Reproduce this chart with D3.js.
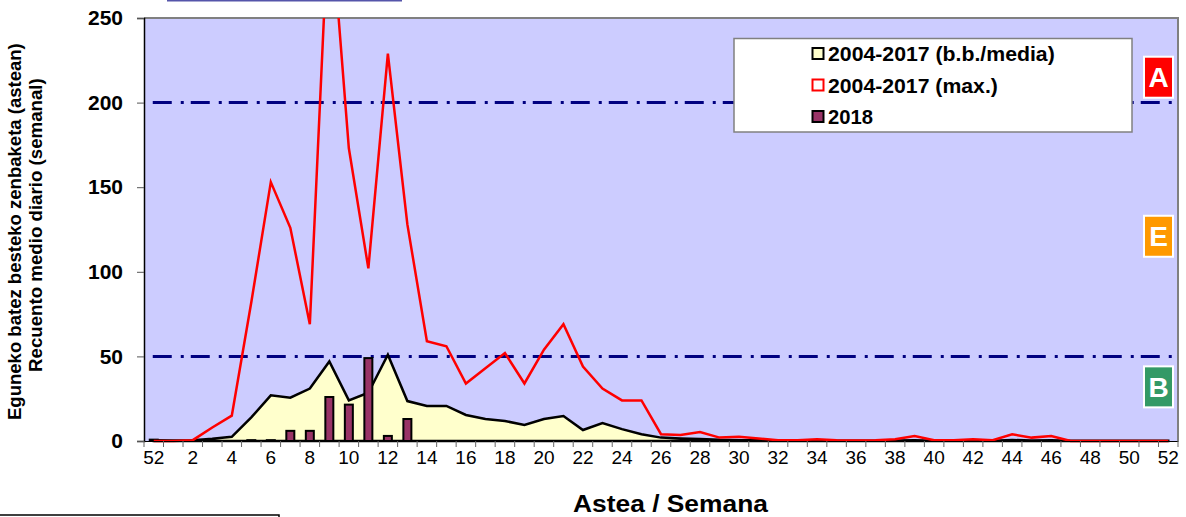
<!DOCTYPE html>
<html><head><meta charset="utf-8">
<script src="https://cdn.jsdelivr.net/npm/d3@7"></script>
<style>body{margin:0;background:#fff}svg{display:block;font-family:"Liberation Sans",Arial,sans-serif}</style>
</head><body><svg id="c" width="1186" height="517"></svg>
<script>
const weeks = ["52","1","2","3","4","5","6","7","8","9","10","11","12","13","14","15","16","17","18","19","20","21","22","23","24","25","26","27","28","29","30","31","32","33","34","35","36","37","38","39","40","41","42","43","44","45","46","47","48","49","50","51","52"];
const meanValues = [0.5,0.3,0.5,1.3,2.5,14,27,25.6,31,47,24,28.5,51,23.6,20.7,20.7,15.4,13,11.8,9.5,13,14.8,6.5,10.6,7,4,2,1.5,1.2,0.7,0.5,0.4,0.3,0.3,0.3,0.2,0.2,0.2,0.3,0.5,0.2,0.2,0.3,0.2,0.6,0.3,0.4,0.1,0.1,0.1,0.1,0.1,0.1];
const maxValues = [0,0,0.5,8,15,82,153,126,69,320,173,102,229,128,59,56,34,43,52,34,54,69,44,31,24,24,4,3.5,5.3,2,2.5,1.5,0.5,0.5,1,0.5,0.3,0.5,1,3,0.5,0.5,1,0.5,4,2,3,0,0,0,0,0,0];
const values2018 = [0.8,null,null,null,null,0.5,0.5,6,6,26,21.5,49,3,13];
const yTicks = [0,50,100,150,200,250];
const thresholds = [200,50];
const levels = [{t:"A",v:215,c:"#ff0000"},{t:"E",v:121,c:"#ff9900"},{t:"B",v:32,c:"#339966"}];
const legendItems = [{t:"2004-2017 (b.b./media)",len:227,fill:"#ffffcc",stroke:"#000"},{t:"2004-2017 (max.)",len:170,fill:"#fff",stroke:"#ff0000"},{t:"2018",len:45,fill:"#993366",stroke:"#000"}];

const svg = d3.select("#c");
const L=144,T=18,R=1178,B=441;
const x = d3.scaleBand().domain(d3.range(weeks.length)).range([L,R]).paddingInner(0).paddingOuter(0);
const y = d3.scaleLinear().domain([0,250]).range([B,T]);
const cx = i => x(i)+x.bandwidth()/2;

function fit(parent, str, x0, y0, target, size, bold, fill){
  const t = parent.append("text").attr("font-size",size).attr("font-weight",bold?"bold":null).attr("fill",fill||"#000").text(str);
  const w = t.node().getComputedTextLength();
  t.attr("transform",`translate(${x0},${y0}) scale(${target/w},1)`);
  return t;
}

svg.append("line").attr("x1",167).attr("x2",402).attr("y1",0.5).attr("y2",0.5).attr("stroke","#5555aa").attr("stroke-width",2);
svg.append("rect").attr("x",-2).attr("y",515).attr("width",281).attr("height",10).attr("fill","none").attr("stroke","#000").attr("stroke-width",1.5);

svg.append("rect").attr("x",L).attr("y",T).attr("width",R-L).attr("height",B-T).attr("fill","#ccccff");
svg.append("path").attr("d",`M${L},${T}H${R}V${B}`).attr("fill","none").attr("stroke","#808080").attr("stroke-width",2);
svg.append("clipPath").attr("id","clip").append("rect").attr("x",L).attr("y",T).attr("width",R-L).attr("height",B-T+3);

thresholds.forEach(v=>{
  svg.append("line").attr("x1",cx(0)-1).attr("x2",cx(weeks.length-1)+4).attr("y1",y(v)).attr("y2",y(v))
    .attr("stroke","#000080").attr("stroke-width",3).attr("stroke-dasharray","19,9,3,7");
});

const g = svg.append("g").attr("clip-path","url(#clip)");
g.append("path").datum(meanValues)
  .attr("d",d3.area().x((d,i)=>cx(i)).y0(y(0)).y1(d=>y(d)))
  .attr("fill","#ffffcc").attr("stroke","#000").attr("stroke-width",2.5);
const bw = 8;
g.selectAll("rect.b").data(values2018.map((v,i)=>({v,i})).filter(d=>d.v!=null)).enter().append("rect")
  .attr("x",d=>cx(d.i)-bw/2).attr("width",bw).attr("y",d=>y(d.v)).attr("height",d=>y(0)-y(d.v))
  .attr("fill","#993366").attr("stroke","#000").attr("stroke-width",2);
g.append("path").datum(maxValues)
  .attr("d",d3.line().x((d,i)=>cx(i)).y(d=>y(d)))
  .attr("fill","none").attr("stroke","#ff0000").attr("stroke-width",2.5);

const ya = svg.append("g").attr("transform",`translate(${L},0)`)
  .call(d3.axisLeft(y).tickValues(yTicks).tickSize(7).tickPadding(14));
ya.select(".domain").attr("stroke","#000").attr("stroke-width",1.5);
ya.selectAll(".tick line").attr("stroke","#555");
ya.selectAll("text").attr("font-size",21).attr("font-weight","bold").attr("fill","#000").attr("font-family",null);

const xa = svg.append("g").attr("transform",`translate(0,${B})`)
  .call(d3.axisBottom(x).tickSize(0).tickPadding(10).tickFormat((d,i)=> i%2===0 ? weeks[i] : ""));
xa.select(".domain").attr("stroke","#000").attr("stroke-width",1);
xa.selectAll("text").attr("font-size",19).attr("fill","#000").attr("font-family",null);
svg.append("g").selectAll("line").data(d3.range(weeks.length+1)).enter().append("line")
  .attr("x1",i=>L+i*x.bandwidth()).attr("x2",i=>L+i*x.bandwidth()).attr("y1",B).attr("y2",B+6)
  .attr("stroke","#666").attr("stroke-width",1);

fit(svg,"Astea / Semana",573,512,195,23,true);
const yg = svg.append("g").attr("transform","translate(21,0) rotate(-90)");
fit(yg,"Eguneko batez besteko zenbaketa (astean)",-420,0,377,17.5,true);
fit(yg,"Recuento medio diario (semanal)",-372,21,294,17.5,true);

levels.forEach(l=>{
  const yc = y(l.v);
  svg.append("rect").attr("x",1144).attr("y",yc-20.5).attr("width",29).attr("height",41).attr("fill",l.c).attr("stroke","#fff").attr("stroke-width",2);
  svg.append("text").attr("x",1158.5).attr("y",yc+10).attr("text-anchor","middle").attr("font-size",28).attr("font-weight","bold").attr("fill","#fff").text(l.t);
});

svg.append("rect").attr("x",734).attr("y",38.5).attr("width",398).attr("height",93.5).attr("fill","#fff").attr("stroke","#808080").attr("stroke-width",1.5);
legendItems.forEach((it,k)=>{
  const yy = 54 + k*31.5;
  svg.append("rect").attr("x",812.5).attr("y",yy-6).attr("width",11).attr("height",11).attr("fill",it.fill).attr("stroke",it.stroke).attr("stroke-width",2);
  fit(svg,it.t,828,yy+7,it.len,20,true);
});
</script></body></html>
